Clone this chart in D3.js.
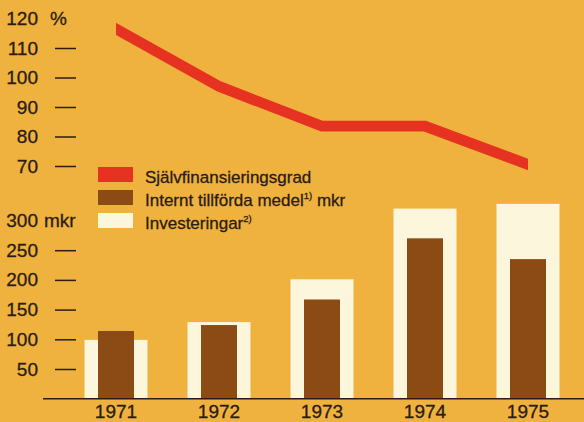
<!DOCTYPE html>
<html>
<head>
<meta charset="utf-8">
<script src="https://cdn.jsdelivr.net/npm/d3@7"></script>
<style>
    body { margin: 0; background: #f0b23e; }
    svg { display: block; }
    text { font-family: "Liberation Sans", Arial, sans-serif; fill: #2a1c12; stroke: #2a1c12; stroke-width: 0.3px; }
</style>
</head>
<body>
<div id="chart"></div>
<script>
// data
const years = [1971, 1972, 1973, 1974, 1975];
const selfFinancing = [116.5, 97, 83.5, 83.5, 70.5];   // %
const internalFunds = [114, 124, 167, 270, 235];        // mkr
const investments = [99, 129, 201, 320, 328];           // mkr

const pctTicks = [70, 80, 90, 100, 110, 120];
const mkrTicks = [50, 100, 150, 200, 250, 300];

const legendItems = [
    { label: "Självfinansieringsgrad", sup: "", after: "", color: "#e63220" },
    { label: "Internt tillförda medel", sup: "1)", after: " mkr", color: "#8c4a14" },
    { label: "Investeringar", sup: "2)", after: "", color: "#fcf6dc" }
];

const width = 584, height = 422;

const svg = d3.select("#chart").append("svg")
    .attr("width", width)
    .attr("height", height);

svg.append("rect")
    .attr("width", width)
    .attr("height", height)
    .attr("fill", "#f0b23e");

// scales
const x = d3.scalePoint().domain(years).range([116, 528]);
const yPct = d3.scaleLinear().domain([70, 120]).range([166, 18.5]);
const yMkr = d3.scaleLinear().domain([0, 300]).range([398.7, 220.5]);

// left axes: tick line 55..76, label right edge at 38
const styleAxis = (g, top) => {
    g.select(".domain").remove();
    g.selectAll(".tick line")
        .attr("stroke", "#2a1c12")
        .attr("stroke-width", 1.5)
        .filter(d => d === top).remove();
    g.selectAll(".tick text")
        .attr("font-size", 19)
        .attr("fill", "#2a1c12");
};

svg.append("g")
    .attr("transform", "translate(76,0)")
    .call(d3.axisLeft(yPct).tickValues(pctTicks).tickSize(21).tickPadding(17).tickFormat(d3.format("d")))
    .call(g => styleAxis(g, 120));

svg.append("g")
    .attr("transform", "translate(76,0)")
    .call(d3.axisLeft(yMkr).tickValues(mkrTicks).tickSize(21).tickPadding(17).tickFormat(d3.format("d")))
    .call(g => styleAxis(g, 300));

svg.append("text")
    .attr("x", 50)
    .attr("y", yPct(120))
    .attr("dy", "0.32em")
    .attr("font-size", 19)
    .text("%");

svg.append("text")
    .attr("x", 44)
    .attr("y", yMkr(300))
    .attr("dy", "0.32em")
    .attr("font-size", 19)
    .text("mkr");

// bars
const wideW = 63, narrowW = 36;

svg.append("g")
    .selectAll("rect")
    .data(years)
    .enter().append("rect")
    .attr("x", d => x(d) - wideW / 2)
    .attr("y", (d, i) => yMkr(investments[i]))
    .attr("width", wideW)
    .attr("height", (d, i) => yMkr(0) - yMkr(investments[i]))
    .attr("fill", legendItems[2].color);

svg.append("g")
    .selectAll("rect")
    .data(years)
    .enter().append("rect")
    .attr("x", d => x(d) - narrowW / 2)
    .attr("y", (d, i) => yMkr(internalFunds[i]))
    .attr("width", narrowW)
    .attr("height", (d, i) => yMkr(0) - yMkr(internalFunds[i]))
    .attr("fill", legendItems[1].color);

// baseline and year labels
svg.append("line")
    .attr("x1", 43).attr("x2", width)
    .attr("y1", yMkr(0)).attr("y2", yMkr(0))
    .attr("stroke", "#2a1c12")
    .attr("stroke-width", 1.6);

svg.append("g")
    .selectAll("text")
    .data(years)
    .enter().append("text")
    .attr("x", d => x(d))
    .attr("y", 418)
    .attr("text-anchor", "middle")
    .attr("font-size", 19)
    .text(d => d);

// self financing line, ends cut vertically
svg.append("clipPath")
    .attr("id", "lineClip")
    .append("rect")
    .attr("x", x(years[0]))
    .attr("y", 0)
    .attr("width", x(years[years.length - 1]) - x(years[0]))
    .attr("height", height);

const line = d3.line()
    .x(d => d[0])
    .y(d => d[1]);

const pts = years.map((yr, i) => [x(yr), yPct(selfFinancing[i])]);
// extend ends a bit so the clip makes the vertical cut
const first = pts[0], second = pts[1];
const last = pts[pts.length - 1], prev = pts[pts.length - 2];
const ext = (a, b) => [a[0] + (a[0] - b[0]) * 0.1, a[1] + (a[1] - b[1]) * 0.1];

svg.append("path")
    .attr("d", line([ext(first, second), ...pts, ext(last, prev)]))
    .attr("clip-path", "url(#lineClip)")
    .attr("fill", "none")
    .attr("stroke", legendItems[0].color)
    .attr("stroke-width", 10.7)
    .attr("stroke-linejoin", "miter");

// legend
const legend = svg.append("g")
    .selectAll("g")
    .data(legendItems)
    .enter().append("g")
    .attr("transform", (d, i) => "translate(98," + (167 + i * 23) + ")");

legend.append("rect")
    .attr("width", 35)
    .attr("height", 15)
    .attr("fill", d => d.color);

const legendText = legend.append("text")
    .attr("x", 47)
    .attr("y", 15.5)
    .attr("font-size", 17);

legendText.append("tspan").text(d => d.label);
legendText.append("tspan")
    .attr("font-size", 9.5)
    .attr("dy", -7)
    .text(d => d.sup);
legendText.append("tspan")
    .attr("dy", 7)
    .text(d => d.after);
</script>
</body>
</html>
